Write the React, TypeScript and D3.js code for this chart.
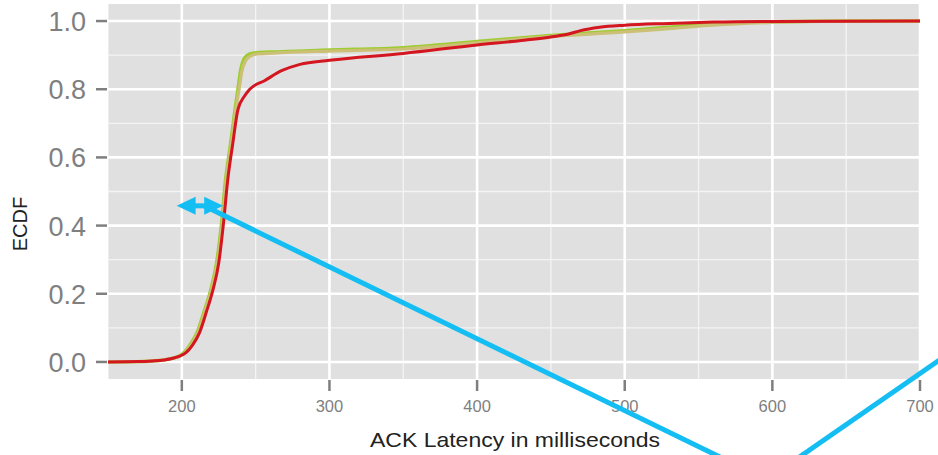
import React from "react";
import * as d3 from "d3";

// ---- Data ----
const xTicks = [200, 300, 400, 500, 600, 700];
const xMinor = [150, 250, 350, 450, 550, 650];
const yTicks = [0, 0.2, 0.4, 0.6, 0.8, 1.0];
const yMinor = [0.1, 0.3, 0.5, 0.7, 0.9];
const yTickLabels = ["0.0", "0.2", "0.4", "0.6", "0.8", "1.0"];

const redX = [150, 170, 180, 188, 194, 199, 203, 207, 212, 216.5, 221, 225, 228.3, 231, 234.5, 238, 242.5, 246, 256, 268, 280, 300, 350, 400, 430, 451, 462, 470, 483, 500, 530, 560, 600, 700];
const redY = [0, 0.001, 0.003, 0.006, 0.011, 0.018, 0.028, 0.048, 0.086, 0.145, 0.21, 0.29, 0.41, 0.53, 0.64, 0.74, 0.78, 0.8, 0.825, 0.855, 0.873, 0.885, 0.905, 0.93, 0.943, 0.954, 0.962, 0.972, 0.982, 0.988, 0.993, 0.997, 0.999, 1.0];

const greenX = [150, 170, 180, 188, 194, 199, 202, 205.5, 210.5, 215, 219.5, 223.5, 227, 229.5, 233, 236, 238, 240, 242, 244.5, 248, 260, 300, 350, 400, 450, 500, 530, 560, 600, 650, 700];
const greenY = [0, 0.001, 0.003, 0.006, 0.011, 0.019, 0.03, 0.05, 0.088, 0.147, 0.21, 0.29, 0.41, 0.53, 0.64, 0.74, 0.8, 0.86, 0.888, 0.9, 0.906, 0.909, 0.915, 0.922, 0.94, 0.958, 0.972, 0.982, 0.992, 0.998, 1.0, 1.0];

const tanX = [150, 170, 180, 188, 194, 199, 202.5, 206, 211, 215.5, 220, 224, 227.5, 230, 233.5, 236.5, 238.8, 240.8, 243, 246, 250, 262, 300, 350, 400, 450, 500, 530, 560, 600, 650, 700];
const tanY = [0, 0.001, 0.003, 0.006, 0.011, 0.018, 0.029, 0.049, 0.087, 0.146, 0.21, 0.29, 0.41, 0.53, 0.64, 0.74, 0.8, 0.855, 0.882, 0.896, 0.903, 0.906, 0.912, 0.918, 0.936, 0.955, 0.968, 0.978, 0.988, 0.996, 1.0, 1.0];

// annotation arrow (data coords)
const arrowY = 0.458;
const arrowX0 = 196.5;
const arrowX1 = 228;
const calloutStartX = 215;

const W = 938;
const H = 455;
const panel = { left: 108, right: 920, top: 4, bottom: 379 };

export default function App() {
  const x = d3.scaleLinear().domain([150, 700]).range([panel.left, panel.right]);
  const y = d3.scaleLinear().domain([-0.05, 1.05]).range([panel.bottom, panel.top]);
  const line = d3
    .line<[number, number]>()
    .x((d) => x(d[0]))
    .y((d) => y(d[1]))
    .curve(d3.curveMonotoneX);
  const red = redX.map((v, i) => [v, redY[i]] as [number, number]);
  const green = greenX.map((v, i) => [v, greenY[i]] as [number, number]);
  const tan = tanX.map((v, i) => [v, tanY[i]] as [number, number]);

  const ax = y(arrowY);
  const a0 = x(arrowX0);
  const a1 = x(arrowX1);
  const hl = 19;
  const hw = 9;
  const blue = "#14bef3";
  const font = "'Liberation Sans', Arial, Helvetica, sans-serif";
  const gray = "#7f7f7f";

  return (
    <svg width={W} height={H} style={{ position: "absolute", left: 0, top: 0, background: "#fff" }}>
      <defs>
        <clipPath id="pc">
          <rect x={panel.left} y={panel.top} width={panel.right - panel.left} height={panel.bottom - panel.top} />
        </clipPath>
      </defs>
      <rect x={panel.left} y={panel.top} width={panel.right - panel.left} height={panel.bottom - panel.top} fill="#e0e0e0" />
      <g clipPath="url(#pc)">
        {xMinor.map((v) => (
          <line key={"xm" + v} x1={x(v)} x2={x(v)} y1={panel.top} y2={panel.bottom} stroke="#f4f4f4" strokeWidth={1.3} />
        ))}
        {yMinor.map((v) => (
          <line key={"ym" + v} x1={panel.left} x2={panel.right} y1={y(v)} y2={y(v)} stroke="#f4f4f4" strokeWidth={1.3} />
        ))}
        {xTicks.map((v) => (
          <line key={"xg" + v} x1={x(v)} x2={x(v)} y1={panel.top} y2={panel.bottom} stroke="#fff" strokeWidth={2.6} />
        ))}
        {yTicks.map((v) => (
          <line key={"yg" + v} x1={panel.left} x2={panel.right} y1={y(v)} y2={y(v)} stroke="#fff" strokeWidth={2.6} />
        ))}
        <path d={line(green) || ""} fill="none" stroke="#9ccc2e" strokeWidth={3.4} />
        <path d={line(tan) || ""} fill="none" stroke="#cbc075" strokeWidth={3.2} />
        <path d={line(red) || ""} fill="none" stroke="#d3161f" strokeWidth={3} />
      </g>
      {/* axes ticks */}
      {xTicks.map((v) => (
        <g key={"xt" + v}>
          <line x1={x(v)} x2={x(v)} y1={panel.bottom + 1} y2={panel.bottom + 12} stroke={gray} strokeWidth={2.5} />
          <text x={x(v)} y={412} textAnchor="middle" fontFamily={font} fontSize={16.5} fill={gray}>
            {v}
          </text>
        </g>
      ))}
      {yTicks.map((v, i) => (
        <g key={"yt" + v}>
          <line x1={panel.left - 12} x2={panel.left - 1} y1={y(v)} y2={y(v)} stroke={gray} strokeWidth={2.5} />
          <text x={86} y={y(v) + 10} textAnchor="end" fontFamily={font} fontSize={27} fill={gray}>
            {yTickLabels[i]}
          </text>
        </g>
      ))}
      <text
        transform={`translate(27,224) rotate(-90)`}
        textAnchor="middle"
        fontFamily={font}
        fontSize={20}
        fill="#222"
      >
        ECDF
      </text>
      <text x={370} y={447} fontFamily={font} fontSize={21} fill="#222" textLength={290} lengthAdjust="spacingAndGlyphs">
        ACK Latency in milliseconds
      </text>
      {/* blue annotation */}
      <line x1={a0 + hl - 2} x2={a1 - hl + 2} y1={ax} y2={ax} stroke={blue} strokeWidth={5} />
      <polygon points={`${a0},${ax} ${a0 + hl},${ax - hw} ${a0 + hl},${ax + hw}`} fill={blue} />
      <polygon points={`${a1},${ax} ${a1 - hl},${ax - hw} ${a1 - hl},${ax + hw}`} fill={blue} />
      <line x1={x(calloutStartX)} y1={ax} x2={722} y2={458} stroke={blue} strokeWidth={5} />
      <line x1={798} y1={458} x2={941} y2={359} stroke={blue} strokeWidth={5} />
    </svg>
  );
}
